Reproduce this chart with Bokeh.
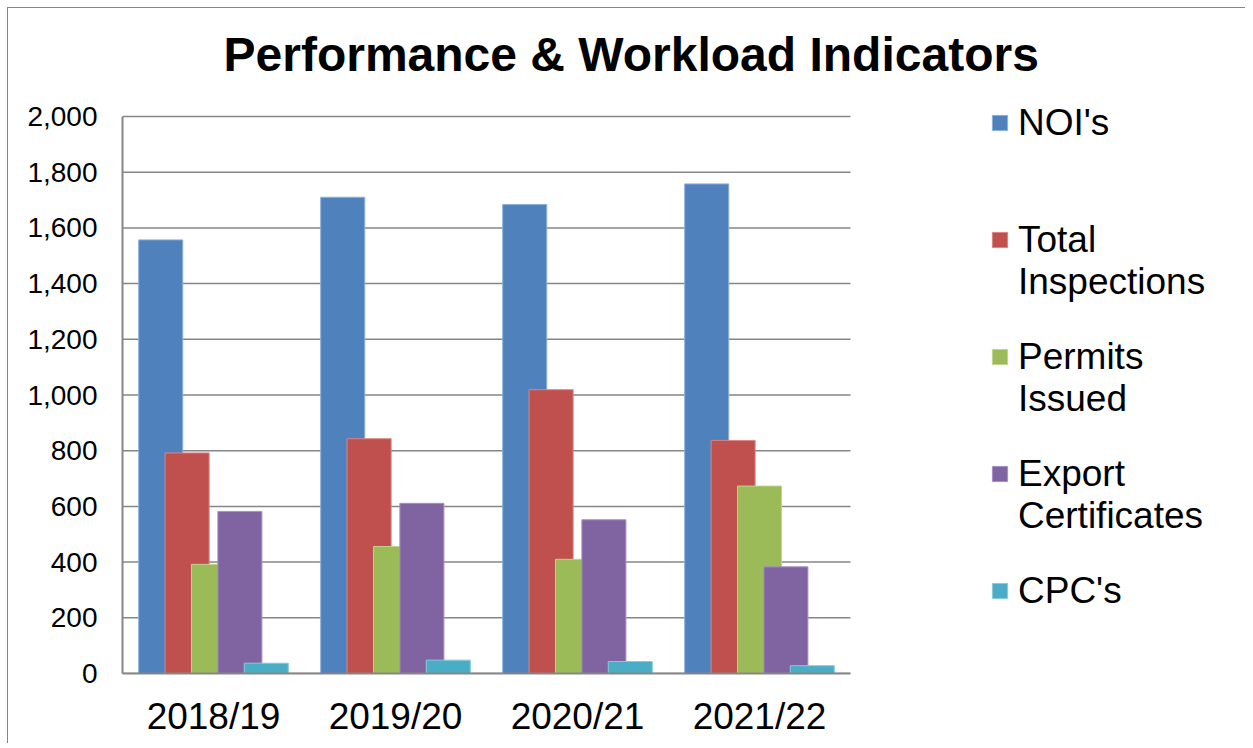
from bokeh.plotting import figure
from bokeh.layouts import column
from bokeh.models import (Range1d, Legend, LegendItem, NumeralTickFormatter,
                          ColumnDataSource, FixedTicker, Title)
from bokeh.transform import dodge
from bokeh.embed import file_html
from bokeh.resources import INLINE

# ---------------- data ----------------
years = ["2018/19", "2019/20", "2020/21", "2021/22"]
series_names = ["NOI's", "Total Inspections", "Permits Issued", "Export Certificates", "CPC's"]
legend_lines = [["NOI's"], ["Total", "Inspections"], ["Permits", "Issued"],
                ["Export", "Certificates"], ["CPC's"]]
nois = [1557, 1710, 1684, 1758]
inspections = [792, 843, 1019, 837]
permits = [392, 456, 410, 673]
exports = [582, 611, 552, 383]
cpcs = [37, 48, 43, 28]
y_ticks = [0, 200, 400, 600, 800, 1000, 1200, 1400, 1600, 1800, 2000]
y_max = 2000
title_text = "Performance & Workload Indicators"

# ---------------- styles / layout ----------------
colors = ["#4F81BD", "#C0504D", "#9BBB59", "#8064A2", "#4BACC6"]
edges = ["#8DB0DB", "#D98683", "#BDD48F", "#A791C2", "#86CBDD"]
offsets = [-0.29, -0.145, 0.0, 0.145, 0.29]
bar_w = 0.242
font = "Liberation Sans"
grey = "#868686"

FIG_W = 1237
FRAME_L, FRAME_T, FRAME_B = 114, 87, 70
FRAME_W = FIG_W - FRAME_L
FRAME_H = 578          # frame height (extends above the 2,000 line to hold the legend)
PLOT_H = 557           # pixels spanned by 0 .. 2,000
PLOT_W = 728           # pixels spanned by the four categories
FIG_H = FRAME_T + FRAME_H + FRAME_B

n = len(years)
xc = [i + 0.5 for i in range(n)]
x_end = n * FRAME_W / PLOT_W
y_end = y_max * FRAME_H / PLOT_H

source = ColumnDataSource(data=dict(xc=xc, year=years, s0=nois, s1=inspections,
                                    s2=permits, s3=exports, s4=cpcs))

p = figure(x_range=Range1d(0, x_end), y_range=Range1d(0, y_end),
           width=FIG_W, height=FIG_H,
           min_border_left=FRAME_L, min_border_top=FRAME_T,
           min_border_right=0, min_border_bottom=FRAME_B,
           output_backend="svg", toolbar_location=None, tools="")
p.background_fill_color = "white"
p.border_fill_color = "white"
p.outline_line_color = None

p.add_layout(Title(text=title_text, align="left", offset=101, standoff=30,
                   text_font=font, text_font_size="48px", text_font_style="bold",
                   text_color="black"), "above")

# horizontal grid lines limited to the category area
p.xgrid.grid_line_color = None
p.ygrid.grid_line_color = None
p.segment(x0=0, x1=n, y0=y_ticks, y1=y_ticks, line_color=grey, line_width=1.5)

bars = []
for i in range(5):
    r = p.vbar(x=dodge("xc", offsets[i]), top="s%d" % i, bottom=0,
               width=bar_w, source=source, fill_color=colors[i],
               line_color=edges[i], line_width=1)
    bars.append(r)
blank = p.vbar(x="xc", top="s4", width=0.01, source=source, fill_alpha=0, line_alpha=0)

p.yaxis.bounds = (0, y_max)
p.yaxis.ticker = FixedTicker(ticks=y_ticks)
p.yaxis.formatter = NumeralTickFormatter(format="0,0")
p.yaxis.major_label_text_font = font
p.yaxis.major_label_text_font_size = "28px"
p.yaxis.major_label_text_color = "black"
p.yaxis.axis_line_color = grey
p.yaxis.axis_line_width = 2
p.yaxis.major_tick_line_color = None
p.yaxis.major_tick_out = 0
p.yaxis.major_tick_in = 0
p.yaxis.minor_tick_line_color = None
p.yaxis.major_label_standoff = 25

p.xaxis.bounds = (0, n)
p.xaxis.ticker = FixedTicker(ticks=xc)
p.xaxis.major_label_overrides = {xc[i]: years[i] for i in range(n)}
p.xaxis.major_label_text_font = font
p.xaxis.major_label_text_font_size = "37px"
p.xaxis.major_label_text_color = "black"
p.xaxis.axis_line_color = grey
p.xaxis.axis_line_width = 2
p.xaxis.major_tick_line_color = None
p.xaxis.major_tick_out = 0
p.xaxis.major_tick_in = 0
p.xaxis.minor_tick_line_color = None
p.xaxis.major_label_standoff = 22

# legends: one per series, the swatch sits on the first text line
LEG_X = 868            # swatch left, from frame left
first_center = 27.5    # first line centre, from frame top
pitch = 117
line_h = 42
for i, lines in enumerate(legend_lines):
    items = [LegendItem(label=lines[0], renderers=[bars[i]])]
    for extra in lines[1:]:
        items.append(LegendItem(label=extra, renderers=[blank]))
    top = first_center + i * pitch - line_h / 2
    bottom = top + line_h * len(lines)
    leg = Legend(items=items, location=(LEG_X, FRAME_H - bottom),
                 glyph_width=19, glyph_height=19, label_standoff=9,
                 label_height=line_h, spacing=0, padding=0, margin=0,
                 border_line_color=None, background_fill_alpha=0,
                 label_text_font=font, label_text_font_size="37px",
                 label_text_color="black")
    p.add_layout(leg)

layout = column(p, margin=(7, 0, 0, 7),
                styles={"border-left": "1px solid #868686", "border-top": "1px solid #868686"})

open("out.html", "w").write(file_html(layout, INLINE))
